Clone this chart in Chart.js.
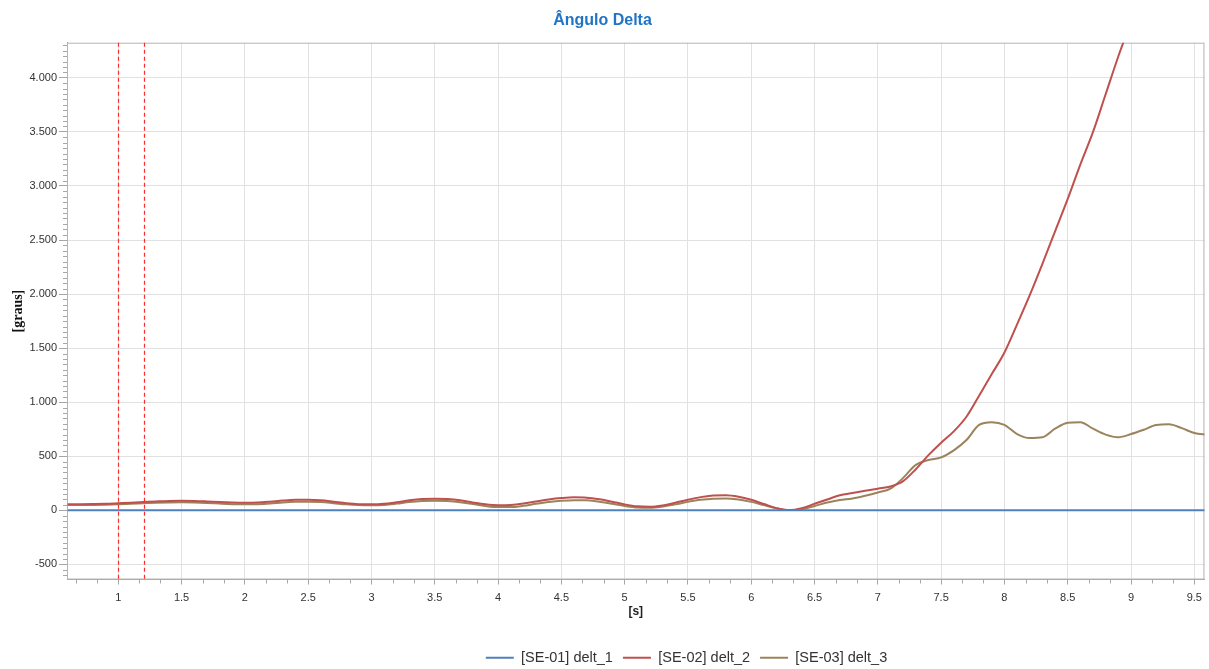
<!DOCTYPE html>
<html lang="pt-BR">
<head>
<meta charset="utf-8">
<title>Ângulo Delta</title>
<script src="https://cdn.jsdelivr.net/npm/chart.js@4.4.1/dist/chart.umd.min.js"></script>
<style>
    html, body { margin: 0; padding: 0; background: #fff; }
    #grafico { display: block; }
</style>
</head>
<body>
<canvas id="grafico" width="1209" height="669"></canvas>
<script>
// Dados (tempo em s, ângulo em graus)
const tempo = [
    0.6, 0.7, 0.8, 0.9, 1.0, 1.1, 1.2, 1.3, 1.4, 1.5,
    1.6, 1.7, 1.8, 1.9, 2.0, 2.1, 2.2, 2.3, 2.4, 2.5,
    2.6, 2.7, 2.8, 2.9, 3.0, 3.1, 3.2, 3.3, 3.4, 3.5,
    3.6, 3.7, 3.8, 3.9, 4.0, 4.1, 4.2, 4.3, 4.4, 4.5,
    4.6, 4.7, 4.8, 4.9, 5.0, 5.1, 5.2, 5.3, 5.4, 5.5,
    5.6, 5.7, 5.8, 5.9, 6.0, 6.1, 6.2, 6.3, 6.4, 6.5,
    6.6, 6.7, 6.8, 6.9, 7.0, 7.1, 7.2, 7.3, 7.4, 7.5,
    7.6, 7.7, 7.8, 7.9, 8.0, 8.1, 8.2, 8.3, 8.4, 8.5,
    8.6, 8.7, 8.8, 8.9, 9.0, 9.1, 9.2, 9.3, 9.4, 9.5,
    9.6
];

// [SE-01] delt_1 é a referência: fica em zero
const tempoRef = [0.6, 9.6];
const delt1 = [0, 0];

const delt2 = [
    57, 57, 58, 60, 65, 70, 76, 82, 87, 89,
    87, 82, 76, 72, 70, 72, 80, 90, 97, 98,
    93, 80, 66, 57, 55, 60, 75, 92, 104, 108,
    104, 92, 72, 55, 47, 50, 63, 82, 100, 113,
    120, 117, 102, 80, 55, 37, 33, 45, 70, 98,
    122, 138, 140, 126, 97, 58, 20, 2, 20, 60,
    100, 140, 160, 180, 200, 220, 270, 380, 510, 625,
    730, 865, 1060, 1260, 1460, 1720, 1990, 2280, 2580, 2880,
    3200, 3500, 3850, 4200, 4520, 4850, 5180, 5520, 5860, 6200,
    6550
];

const delt3 = [
    48, 48, 49, 51, 55, 60, 65, 70, 73, 74,
    72, 68, 62, 57, 55, 57, 63, 72, 78, 80,
    76, 66, 55, 48, 46, 50, 62, 76, 85, 88,
    85, 75, 58, 40, 30, 30, 42, 60, 76, 88,
    94, 92, 80, 60, 40, 26, 24, 35, 55, 78,
    97, 108, 110, 100, 78, 48, 18, 2, 10, 40,
    72, 95, 110, 135, 165, 200, 300, 420, 465, 490,
    555, 650, 790, 815, 790, 705, 668, 675, 755, 810,
    815, 755, 700, 676, 705, 745, 790, 795, 760, 715,
    700
];

const series = ['[SE-01] delt_1', '[SE-02] delt_2', '[SE-03] delt_3'];
const cores = ['#4f81bd', '#c0504d', '#9b845c'];

const xTicks = [1, 1.5, 2, 2.5, 3, 3.5, 4, 4.5, 5, 5.5, 6, 6.5, 7, 7.5, 8, 8.5, 9, 9.5];
const yTicks = [-500, 0, 500, 1000, 1500, 2000, 2500, 3000, 3500, 4000];
const marcadores = [1, 1.2]; // linhas verticais tracejadas

function pontos(xs, ys) {
    return xs.map((x, i) => ({ x: x, y: ys[i] }));
}

function milhar(v) {
    const s = Math.abs(v).toString().replace(/\B(?=(\d{3})+(?!\d))/g, '.');
    return (v < 0 ? '-' : '') + s;
}

// Moldura, marcas menores e linhas tracejadas
const extras = {
    id: 'extras',
    afterLayout(chart) {
        // a legenda do original fica deslocada para a direita
        chart.legend.left += 84;
        chart.legend.right += 84;
    },
    beforeDatasetsDraw(chart) {
        const { ctx, chartArea: a, scales: { x, y } } = chart;
        ctx.save();
        ctx.strokeStyle = '#a6a6a6';
        ctx.lineWidth = 1;
        ctx.beginPath();
        // marcas menores em y (a cada 50)
        for (let v = Math.ceil(y.min / 50) * 50; v <= y.max; v += 50) {
            if (v % 500 === 0) continue;
            const py = Math.round(y.getPixelForValue(v)) + 0.5;
            ctx.moveTo(a.left - 4, py);
            ctx.lineTo(a.left, py);
        }
        // marcas menores em x (a cada 1/6 s)
        for (let k = Math.ceil(x.min * 6); k <= Math.floor(x.max * 6); k++) {
            if (k % 3 === 0) continue;
            const px = Math.round(x.getPixelForValue(k / 6)) + 0.5;
            ctx.moveTo(px, a.bottom);
            ctx.lineTo(px, a.bottom + 4);
        }
        ctx.stroke();
        ctx.strokeStyle = '#b4b4b4';
        ctx.strokeRect(a.left + 0.5, a.top + 0.5, a.width - 1, a.height - 1);
        ctx.restore();
    },
    afterDatasetsDraw(chart) {
        const { ctx, chartArea: a, scales: { x } } = chart;
        ctx.save();
        ctx.strokeStyle = '#ff2a2a';
        ctx.lineWidth = 1.2;
        ctx.setLineDash([4, 3]);
        marcadores.forEach(t => {
            const px = Math.round(x.getPixelForValue(t)) + 0.5;
            ctx.beginPath();
            ctx.moveTo(px, a.top);
            ctx.lineTo(px, a.bottom);
            ctx.stroke();
        });
        ctx.restore();
    }
};

Chart.defaults.font.family = "'Liberation Sans', Arial, sans-serif";
Chart.defaults.color = '#333';

new Chart(document.getElementById('grafico').getContext('2d'), {
    type: 'line',
    data: {
        datasets: [
            { label: series[0], data: pontos(tempoRef, delt1), borderColor: cores[0], backgroundColor: cores[0] },
            { label: series[1], data: pontos(tempo, delt2), borderColor: cores[1], backgroundColor: cores[1] },
            { label: series[2], data: pontos(tempo, delt3), borderColor: cores[2], backgroundColor: cores[2] }
        ].map(d => Object.assign(d, { borderWidth: 2, pointRadius: 0, cubicInterpolationMode: 'monotone', fill: false }))
    },
    options: {
        responsive: false,
        animation: false,
        layout: { padding: { left: 0, right: 4, top: 0, bottom: -6 } },
        plugins: {
            title: {
                display: true,
                text: 'Ângulo Delta',
                color: '#1f74c6',
                font: { size: 16, weight: 'bold' },
                padding: { top: 11, bottom: 12.5 }
            },
            legend: {
                position: 'bottom',
                labels: {
                    usePointStyle: true,
                    pointStyle: 'line',
                    pointStyleWidth: 28,
                    padding: 10,
                    color: '#333',
                    font: { size: 14.5 }
                }
            },
            tooltip: { enabled: false }
        },
        scales: {
            x: {
                type: 'linear',
                min: 0.595,
                max: 9.58,
                afterBuildTicks: s => { s.ticks = xTicks.map(v => ({ value: v })); },
                afterFit: s => { s.height = 61; },
                ticks: { padding: 7, font: { size: 11 }, color: '#333', callback: v => String(v) },
                grid: { color: '#e1e1e1', tickColor: '#a6a6a6', tickLength: 5 },
                border: { color: '#a6a6a6' },
                title: { display: true, text: '[s]', font: { size: 12, weight: 'bold' }, color: '#222', padding: { top: 0, bottom: 22 } }
            },
            y: {
                min: -640,
                max: 4325,
                afterBuildTicks: s => { s.ticks = yTicks.map(v => ({ value: v })); },
                afterFit: s => { s.width = 67; },
                ticks: { padding: 2, font: { size: 11 }, color: '#333', callback: v => milhar(v) },
                grid: { color: '#e1e1e1', tickColor: '#a6a6a6', tickLength: 8 },
                border: { color: '#a6a6a6' },
                title: {
                    display: true,
                    text: '[graus]',
                    font: { family: "'Liberation Serif', 'Times New Roman', serif", size: 14, weight: 'bold' },
                    color: '#111',
                    padding: { top: 10, bottom: 0 }
                }
            }
        }
    },
    plugins: [extras]
});
</script>
</body>
</html>
